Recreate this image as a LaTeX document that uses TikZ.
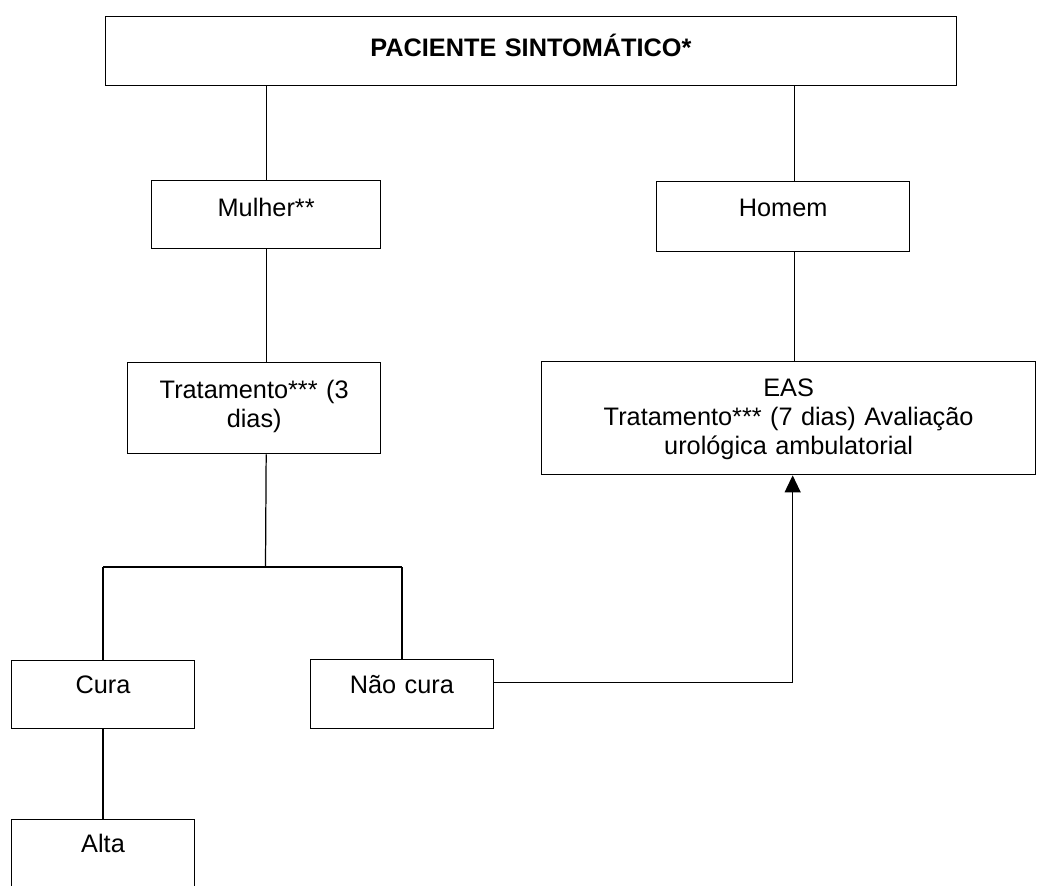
\documentclass[tikz,border=0pt]{standalone}
\usepackage{fontspec}
\setmainfont{Liberation Sans}
\usetikzlibrary{arrows.meta}

\begin{document}
\begin{tikzpicture}[x=0.02cm, y=-0.02cm,
  box/.style={draw, line width=0.8pt, anchor=north west, inner sep=0pt, align=center, font=\fontsize{14.4}{16.5}\selectfont},
  link/.style={line width=0.7pt}]
\useasboundingbox (0,0) rectangle (1037,885);
\clip (0,0) rectangle (1037,885);
% boxes
\node[box, text width=17.03cm, text height=0.8cm, text depth=0.58cm, font=\fontsize{14.4}{16.5}\selectfont\bfseries] (F1N0) at (104.5,16) {PACIENTE SINTOMÁTICO*};
\node[box, text width=4.58cm, text height=0.72cm, text depth=0.64cm] (F1N1) at (151,180) {Mulher**};
\node[box, text width=5.06cm, text height=0.70cm, text depth=0.70cm] (F1N2) at (656,181) {Homem};
\node[box, text width=5.06cm, text height=0.72cm, text depth=1.10cm] (F1N3) at (127,362) {Tratamento*** (3\\dias)};
\node[box, text width=9.88cm, text height=0.70cm, text depth=1.56cm] (F1N4) at (541,361) {EAS\\Tratamento*** (7 dias) Avaliação\\urológica ambulatorial};
\node[box, text width=3.67cm, text height=0.66cm, text depth=0.70cm] (F1N5) at (10.6,660) {Cura};
\node[box, text width=3.67cm, text height=0.68cm, text depth=0.70cm] (F1N6) at (309.5,659) {Não cura};
\node[box, text width=3.67cm, text height=0.66cm, text depth=0.78cm] (F1N7) at (10.6,819) {Alta};
\coordinate (F1C0) at (265.5,567);
% connectors
\draw[link] (F1N1.north) -- (F1N1.north |- F1N0.south);
\draw[link] ([xshift=0.23cm]F1N2.north) -- ([xshift=0.23cm]F1N2.north |- F1N0.south);
\draw[link] (F1N1.south) -- (F1N1.south |- F1N3.north);
\draw[link] ([xshift=0.23cm]F1N2.south) -- ([xshift=0.23cm]F1N2.south |- F1N4.north);
\draw[link] (F1N1.south |- F1N3.south) -- (F1C0);
\draw[link, line width=1.4pt] (F1N5.north |- F1C0) -- (F1N6.north |- F1C0);
\draw[link] (F1N5.north) -- (F1N5.north |- F1C0);
\draw[link] (F1N6.north) -- (F1N6.north |- F1C0);
\draw[link] (F1N5.south) -- (F1N7.north);
\draw[link, -{Triangle[length=0.34cm, width=0.32cm]}] ([yshift=0.23cm]F1N6.east) -| ([xshift=0.08cm]F1N4.south);
\end{tikzpicture}
\end{document}
